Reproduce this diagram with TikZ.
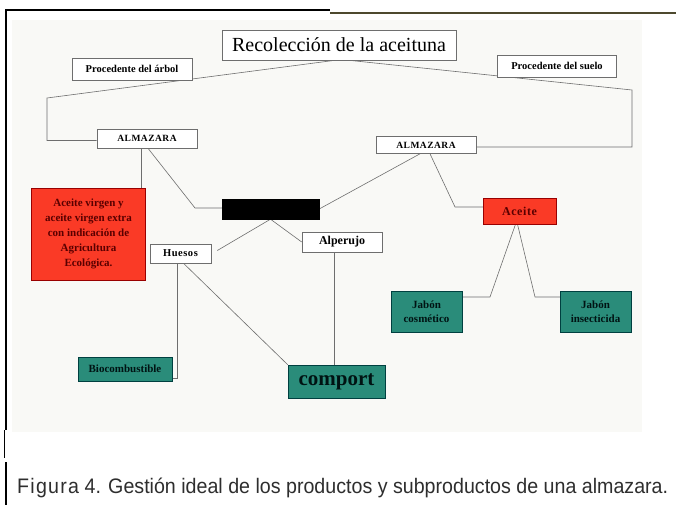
\documentclass[tikz,border=0pt]{standalone}
\usepackage{fontspec}
\setmainfont{Liberation Serif}
\newfontfamily\capfont[FakeStretch=0.935]{Liberation Sans}
\newfontfamily\spaced[LetterSpace=5]{Liberation Serif}
\usetikzlibrary{backgrounds}
\definecolor{redbox}{HTML}{FA3A26}
\definecolor{tealbox}{HTML}{2A8C7A}
\definecolor{linec}{HTML}{6E6E6E}
\definecolor{slidebg}{HTML}{F9F9F6}
\definecolor{capc}{HTML}{2E2E2E}
\pgfdeclarelayer{bottom}
\pgfsetlayers{bottom,background,main}
\tikzset{
  wbox/.style={draw=linec, fill=white, line width=0.6pt, inner sep=0pt, align=center,
     font=\bfseries\fontsize{10.5}{12}\selectfont},
  rbox/.style={draw=red!60!black, fill=redbox, line width=0.5pt, inner sep=0pt, align=center,
     text=red!35!black, font=\bfseries\fontsize{11}{15}\selectfont},
  tbox/.style={draw=teal!50!black, fill=tealbox, line width=0.5pt, inner sep=0pt, align=center,
     text=black!85!teal, font=\bfseries\fontsize{11}{14}\selectfont},
  conn/.style={draw=linec, line width=0.6pt},
}
\begin{document}
\begin{tikzpicture}[x=1pt,y=-1pt]
\useasboundingbox (0,0) rectangle (676,511);
\begin{pgfonlayer}{bottom}
\fill[white] (0,0) rectangle (676,511);
\fill[slidebg] (12,20) rectangle (642,432);
\end{pgfonlayer}
% frame lines
\draw[line width=1.6pt, black] (5,10) -- (330,10);
\draw[line width=1.2pt, black!60!olive] (330,13) -- (676,13);
\draw[line width=1.6pt, black] (6,10) -- (6,430);
\draw[line width=0.8pt, black] (4,430) -- (4,458);
\draw[line width=1.6pt, black] (6,462) -- (6,505);

% nodes
\node[wbox, minimum width=234pt, minimum height=30pt, font=\fontsize{20}{22}\selectfont] (title) at (339,45) {Recolección de la aceituna};
\node[wbox, minimum width=120pt, minimum height=22pt] (parbol) at (132,69) {Procedente del árbol};
\node[wbox, minimum width=119pt, minimum height=22pt] (psuelo) at (557,66) {Procedente del suelo};
\node[wbox, minimum width=100pt, minimum height=19pt, font=\spaced\bfseries\fontsize{9.5}{11}\selectfont] (alm1) at (147,138.5) {ALMAZARA};
\node[wbox, minimum width=100pt, minimum height=17pt, font=\spaced\bfseries\fontsize{9.5}{11}\selectfont] (alm2) at (426,145) {ALMAZARA};
\node[rbox, minimum width=114pt, minimum height=92pt] (virgen) at (88.5,234) {Aceite virgen y\\aceite virgen extra\\con indicación de\\Agricultura\\Ecológica.};
\node[draw=black, fill=black, minimum width=97pt, minimum height=20pt, inner sep=0pt] (neg) at (270.5,209) {};
\node[wbox, minimum width=61pt, minimum height=19pt, font=\spaced\bfseries\fontsize{10.5}{12}\selectfont] (huesos) at (180.5,253.5) {Huesos};
\node[wbox, minimum width=80pt, minimum height=20pt, font=\bfseries\fontsize{12}{13}\selectfont] (alperujo) at (342,242) {Alperujo};
\node[tbox, minimum width=94pt, minimum height=24pt] (bio) at (125,369) {Biocombustible};
\node[tbox, minimum width=97pt, minimum height=33pt, font=\bfseries\fontsize{21}{23}\selectfont] (compost) at (336.5,381.5) {comport};
\node[rbox, minimum width=73pt, minimum height=26pt, font=\spaced\bfseries\fontsize{12}{14}\selectfont] (aceite) at (519.5,211) {Aceite};
\node[tbox, minimum width=71pt, minimum height=41pt] (jcos) at (426.5,311.5) {Jabón\\cosmético};
\node[tbox, minimum width=71pt, minimum height=41pt] (jins) at (595.5,311.5) {Jabón\\insecticida};

\coordinate (c1) at (47,98);
\coordinate (c2) at (632,90);
\coordinate (c3) at (195,208);
\coordinate (c4) at (455,207);
\coordinate (c5) at (490,297);
\coordinate (c6) at (535,297);

\begin{scope}[on background layer]
\draw[conn] ([xshift=-4pt]title.south) -- (c1) |- ([yshift=-2pt]alm1.west);
\draw[conn] ([xshift=10pt]title.south) -- (c2) |- ([yshift=-2pt]alm2.east);
\draw[conn] ([xshift=-6pt]alm1.south) -- ([xshift=-6pt]alm1.south |- virgen.north);
\draw[conn] ([xshift=1pt]alm1.south) -- (c3) -- (c3 -| neg.west);
\draw[conn] (neg.east) -- ([xshift=-6pt]alm2.south);
\draw[conn] (neg.south) -- ([yshift=3pt,xshift=6pt]huesos.east);
\draw[conn] (neg.south) -- (alperujo.west);
\draw[conn] ([xshift=-3.5pt]huesos.south) |- ([yshift=-9pt]bio.east);
\draw[conn] ([xshift=3pt]huesos.south) -- (compost.north west);
\draw[conn] ([xshift=-8pt]alperujo.south) -- ([xshift=-8pt]alperujo.south |- compost.north);
\draw[conn] ([xshift=4pt]alm2.south) -- (c4) -- (c4 -| aceite.west);
\draw[conn] ([xshift=-4pt]aceite.south) -- (c5) -- (c5 -| jcos.east);
\draw[conn] ([xshift=-2pt]aceite.south) -- (c6) -- (c6 -| jins.west);
\end{scope}

\node[anchor=west, inner sep=0pt, text=capc, font=\capfont\fontsize{21}{24}\selectfont] (cap) at (17,488)
  {{\addfontfeature{LetterSpace=6}Figura} 4. Gestión ideal de los productos y subproductos de una almazara.};
\end{tikzpicture}
\end{document}
